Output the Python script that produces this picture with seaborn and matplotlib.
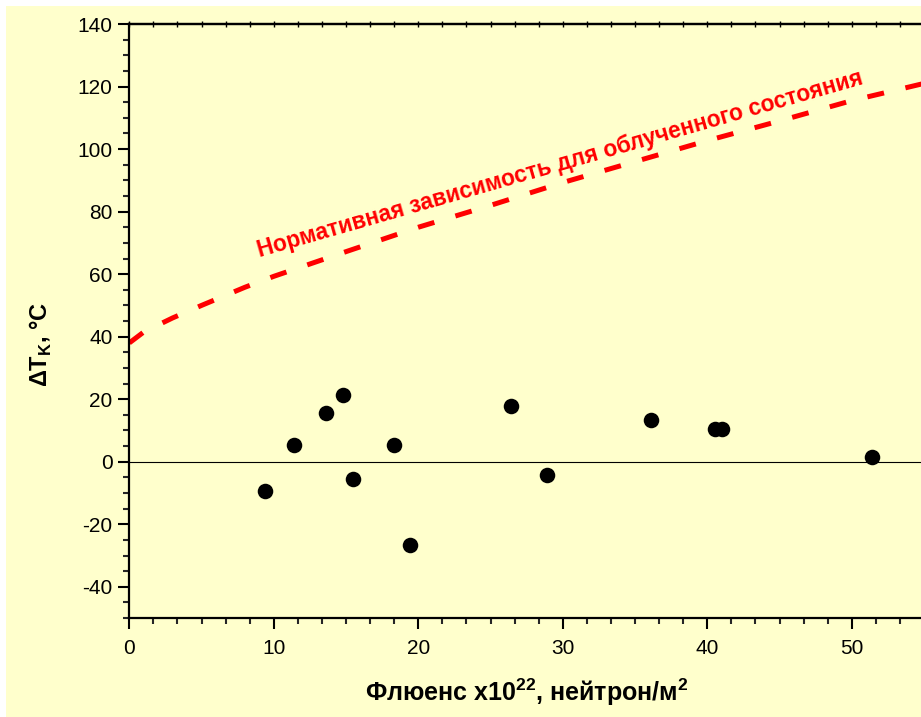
import matplotlib
matplotlib.use("Agg")
import matplotlib.pyplot as plt
import matplotlib.patches as mpatches
from matplotlib.ticker import MultipleLocator, NullFormatter
import pandas as pd
import seaborn as sns

# measured points
fluence = [9.4, 11.4, 13.6, 14.8, 15.5, 18.3, 19.4, 26.4, 28.9, 36.1, 40.5, 41.0, 51.4]
delta_t = [-9.5, 5.4, 15.6, 21.4, -5.4, 5.4, -26.5, 17.7, -4.4, 13.4, 10.5, 10.5, 1.5]

# normative curve
norm_f = [0, 1, 3, 5, 8, 10, 15, 20, 25, 30, 35, 40, 45, 50, 55]
norm_t = [38, 41.5, 46, 50, 55.8, 59.3, 67.2, 75, 82, 89.3, 96, 102.7, 109, 115.5, 121]

sns.set_theme(style="ticks")
plt.rcParams["font.family"] = ["Liberation Sans", "DejaVu Sans"]
plt.rcParams["mathtext.fontset"] = "custom"
plt.rcParams["mathtext.rm"] = "Liberation Sans"
plt.rcParams["mathtext.bf"] = "Liberation Sans:bold"
plt.rcParams["axes.unicode_minus"] = False
plt.rcParams["text.color"] = "black"
plt.rcParams["axes.labelcolor"] = "black"

bg = "#FFFFCC"
fig = plt.figure(figsize=(9.21, 7.17), dpi=100, facecolor="white")
fig.patches.append(mpatches.Rectangle((6 / 921, 0), 1, (717 - 6) / 717,
                                      transform=fig.transFigure, facecolor=bg,
                                      edgecolor="none", zorder=-10))
ax = fig.add_axes([0.1404, 0.138, 0.8629, 0.8285])
ax.set_facecolor(bg)

pts = pd.DataFrame({"F": fluence, "dT": delta_t})
curve = pd.DataFrame({"F": norm_f, "dT": norm_t})

ax.axhline(0, color="black", lw=0.8, zorder=1)
sns.lineplot(data=curve, x="F", y="dT", ax=ax, color="#FF0000", lw=3.6,
             sort=False, zorder=2)
ax.lines[-1].set_dashes((3.4, 4.4))
sns.scatterplot(data=pts, x="F", y="dT", ax=ax, color="black", s=125,
                edgecolor="black", linewidth=0, zorder=3)

ax.text(29.8, 95.3, "Нормативная зависимость для облученного состояния",
        color="#FF0000", fontsize=16.4, fontweight="bold", rotation=16,
        rotation_mode="anchor", ha="center", va="center")

ax.set_xlim(0, 55)
ax.set_ylim(-50, 140)
ax.xaxis.set_major_locator(MultipleLocator(10))
ax.xaxis.set_minor_locator(MultipleLocator(10 / 6))
ax.yaxis.set_minor_locator(MultipleLocator(5))
ax.set_yticks(range(-40, 141, 20))

ax.tick_params(which="major", direction="out", length=8, width=1.5,
               labelsize=15, colors="black", pad=4)
ax.tick_params(which="minor", direction="out", length=4.5, width=1.5)
ax.tick_params(axis="x", pad=7)

for side in ["left", "bottom", "top"]:
    ax.spines[side].set_linewidth(1.6)
    ax.spines[side].set_color("black")
ax.spines["right"].set_visible(False)

top = ax.secondary_xaxis("top")
top.xaxis.set_major_locator(MultipleLocator(10 / 6))
top.xaxis.set_major_formatter(NullFormatter())
top.tick_params(direction="inout", length=4, width=1.0, colors="black")
top.spines["top"].set_linewidth(1.6)
top.spines["top"].set_color("black")

ax.set_xlabel("Флюенс x10$^{\\mathbf{22}}$, нейтрон/м$^{\\mathbf{2}}$",
              fontsize=18, fontweight="bold")
ax.set_ylabel("ΔT$_{\\mathbf{K}}$, °C", fontsize=17, fontweight="bold")
ax.xaxis.set_label_coords(0.5, -0.098)
ax.yaxis.set_label_coords(-0.095, 0.46)

fig.savefig("out.png", dpi=100, facecolor=fig.get_facecolor())
